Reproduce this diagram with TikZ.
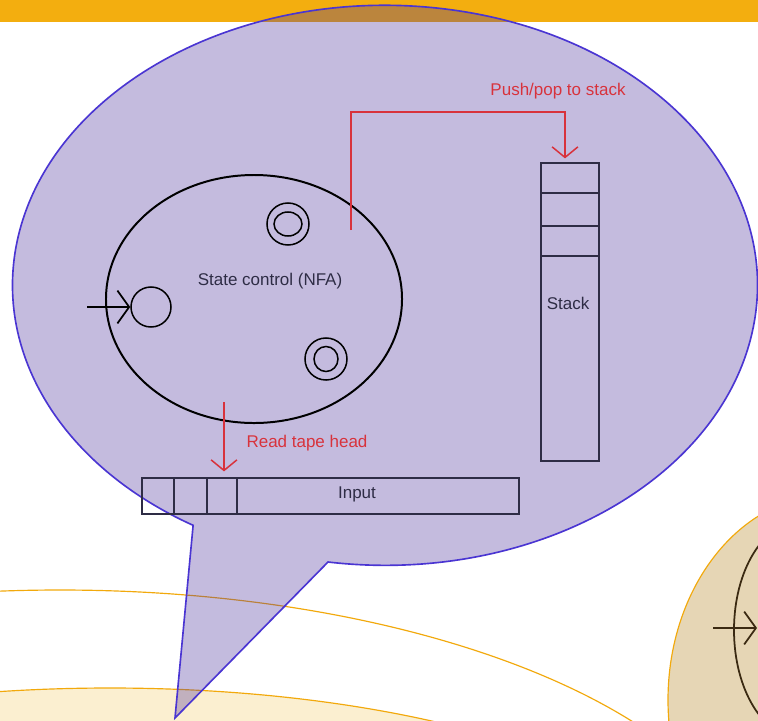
\documentclass[tikz,border=0pt]{standalone}
\usepackage{fontspec}
\setmainfont{Liberation Sans}
\usepackage{tikz}
\usetikzlibrary{positioning,arrows.meta,shapes.geometric}
\usepackage{xcolor}
\definecolor{barcol}{HTML}{F3AE0F}
\definecolor{bubcol}{HTML}{4B329B}
\definecolor{bublinecol}{HTML}{4A35D2}
\definecolor{redcol}{HTML}{D8323C}
\definecolor{inkcol}{HTML}{2E2C45}
\definecolor{palecol}{HTML}{FBEFD0}
\definecolor{tancol}{HTML}{E6D6B5}
\definecolor{rimcol}{HTML}{F2A90C}
\definecolor{browncol}{HTML}{3B2A12}

\begin{document}
\begin{tikzpicture}[x=0.03cm,y=-0.03cm,
          bubble/.style={draw=bublinecol,line width=1.4pt,fill=bubcol,fill opacity=0.33},
          rim/.style={draw=rimcol,line width=1pt},
          redarr/.style={draw=redcol,line width=1.3pt,-{Straight Barb[length=9pt,width=22pt]}},
          inkarr/.style={line width=1.5pt,-{Straight Barb[length=10pt,width=28pt]}},
          lbl/.style={font=\fontsize{14.5}{17}\selectfont},
          cell/.style={draw=inkcol,line width=1pt},
          statebox/.style={draw,circle,line width=1.3pt,inner sep=0pt,minimum size=1.26cm}
        ]
        \useasboundingbox (0,0) rectangle (758,720);
        \clip (0,0) rectangle (758,720);
        \fill[barcol] (0,0) rectangle (758,22);
        % slides behind the bubble
        \draw[rim,fill=white] (60,900) ellipse [x radius=700, y radius=310];
        \draw[rim,fill=palecol] (110,900) ellipse [x radius=600, y radius=212];
        \draw[rim,fill=tancol] (830,700) ellipse [x radius=162, y radius=205];
        \draw[browncol,line width=1.5pt] (800,630) ellipse [x radius=66, y radius=108];
        \coordinate (tanin) at (713,628);
        \coordinate (tanto) at (757,628);
        \draw[inkarr,browncol] (tanin) -- (tanto);
        % the bubble
        \draw[bubble] (328,562) arc[start angle=98.8, end angle=-239, x radius=372.5, y radius=280]
          -- (175,718) -- cycle;
        % state control
        \node[draw,ellipse,line width=1.7pt,inner sep=0pt,minimum width=8.88cm,minimum height=7.44cm] (ctrl) at (254,299) {};
        \node[lbl,text=inkcol] (ctrllbl) at (270,281) {State control (NFA)};
        \node[statebox,minimum size=1.2cm] (q0) at (151,307) {};
        \coordinate (q0in) at (87,307);
        \draw[inkarr] (q0in) -- (q0.west);
        \node[statebox] (qf1) at (288,224) {};
        \draw[line width=1.3pt] (qf1.center) ellipse [x radius=14, y radius=12];
        \node[statebox,minimum size=1.26cm] (qf2) at (326,359) {};
        \draw[line width=1.3pt] (qf2.center) ellipse [x radius=12, y radius=12.5];
        % stack
        \node[cell,rectangle,inner sep=0pt,minimum width=1.74cm,minimum height=8.94cm] (stack) at (570,312) {};
        \foreach \yy in {193,226,256}
          \draw[cell] (stack.west |- 0,\yy) -- (stack.east |- 0,\yy);
        \node[lbl,text=inkcol] (stacklbl) at (568,303) {Stack};
        % tape
        \node[cell,rectangle,inner sep=0pt,minimum width=11.31cm,minimum height=1.08cm] (tape) at (330.5,496) {};
        \foreach \xx in {174,207,237}
          \draw[cell] (tape.north -| \xx,0) -- (tape.south -| \xx,0);
        \node[lbl,text=inkcol] (tapelbl) at (357,494) {Input};
        % red connectors
        \coordinate (pushfrom) at (351,230);
        \draw[redarr] (pushfrom) -- (pushfrom |- 0,112) -| ([xshift=-0.15cm,yshift=0.12cm]stack.north);
        \node[lbl,text=redcol] (pushlbl) at (558,91) {Push/pop to stack};
        \coordinate (readfrom) at (224,402);
        \draw[redarr,shorten >=0.18cm] (readfrom) -- (readfrom |- tape.north);
        \node[lbl,text=redcol] (readlbl) at (307,443) {Read tape head};
      \end{tikzpicture}
\end{document}
